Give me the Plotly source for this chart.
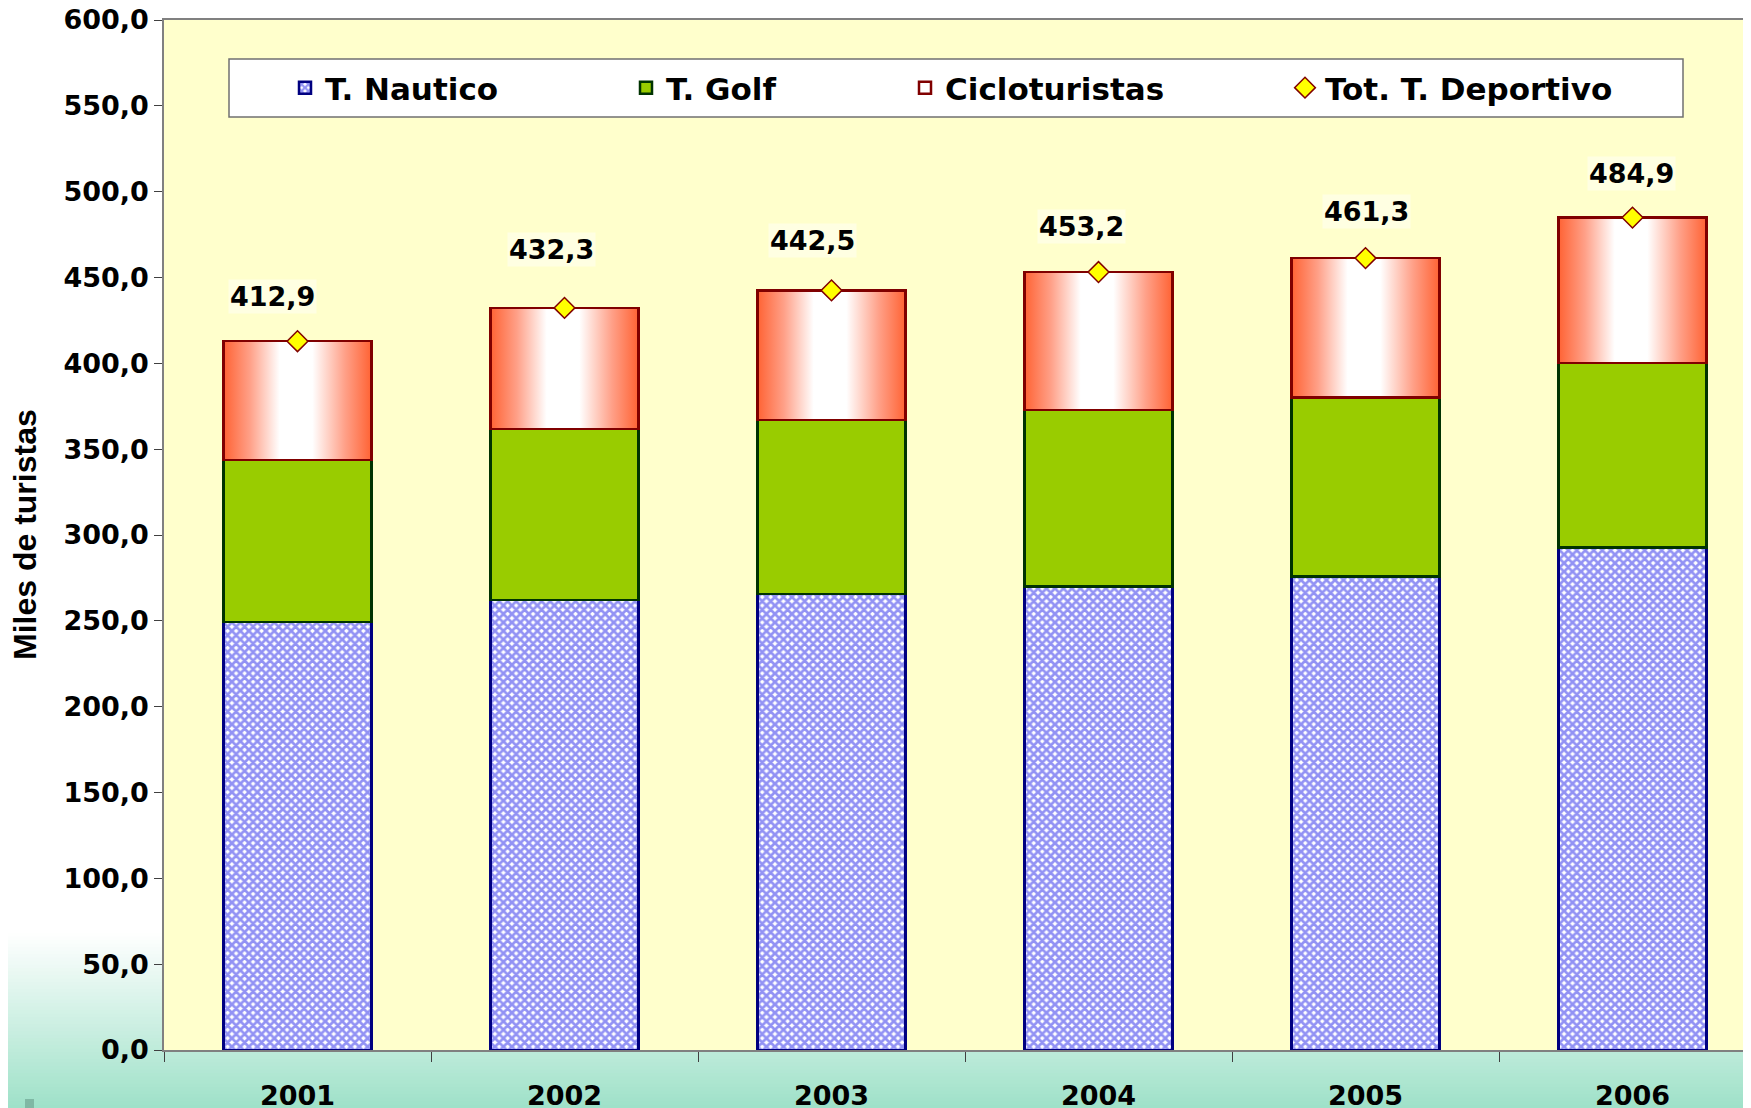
import numpy as np
import plotly.graph_objects as go

# datos (miles de turistas)
years = ["2001", "2002", "2003", "2004", "2005", "2006"]
nautico = [249.2, 262.2, 265.5, 270.0, 275.9, 292.8]
golf = [94.4, 99.6, 101.5, 102.9, 104.1, 107.4]
total = [412.9, 432.3, 442.5, 453.2, 461.3, 484.9]
ciclo = [round(t - n - g, 1) for t, n, g in zip(total, nautico, golf)]

# posicion de las etiquetas (px) respecto al marcador
lbl_dx = [-25, -13, -19, -17, 1, -1]
lbl_dy = [45, 58, 50, 46, 47, 44]
# ancho de cada entrada de la leyenda (px)
leg_w = [296, 234, 335, 290]

# la pagina tiene 8px de margen en el body
W, H = 1743, 1100
ML, MT, MB = 156, 12, 58
PW, PH = W - ML, H - MT - MB
bar_w = 0.556
xr = [-0.5, -0.5 + PW / 267.0]
FONT = "DejaVu Sans"


def px_x(p):
    return (p - ML) / PW


def px_y(p):
    return (H - MB - p) / PH


fig = go.Figure()

# relleno degradado de los cicloturistas (eje numerico de fondo)
ciclo_scale = [[0, "#FF6233"], [0.18, "#FFA088"], [0.38, "#FFFFFF"],
               [0.6, "#FFFFFF"], [0.82, "#FFA088"], [1, "#FF6233"]]
for i in range(len(years)):
    b = nautico[i] + golf[i]
    t = total[i]
    fig.add_trace(go.Scatter(
        x=[i - bar_w / 2, i + bar_w / 2, i + bar_w / 2, i - bar_w / 2, i - bar_w / 2],
        y=[b, b, t, t, b],
        mode="lines", line=dict(width=0), fill="toself",
        fillgradient=dict(type="horizontal", colorscale=ciclo_scale),
        xaxis="x", yaxis="y", showlegend=False, hoverinfo="skip"))

fig.add_trace(go.Bar(
    x=years, y=nautico, name="T. Nautico", width=bar_w, legendwidth=leg_w[0],
    marker=dict(color="white", line=dict(color="#000080", width=2.5),
                pattern=dict(shape="x", fgcolor="#2626EA", bgcolor="white",
                             size=6, solidity=0.7)),
    xaxis="x2", yaxis="y"))
fig.add_trace(go.Bar(
    x=years, y=golf, name="T. Golf", width=bar_w, legendwidth=leg_w[1],
    marker=dict(color="#99CC00", line=dict(color="#003300", width=2.5)),
    xaxis="x2", yaxis="y"))
fig.add_trace(go.Bar(
    x=years, y=ciclo, name="Cicloturistas", width=bar_w, legendwidth=leg_w[2],
    marker=dict(color="rgba(255,255,255,0)", line=dict(color="#800000", width=2.5)),
    xaxis="x2", yaxis="y"))
fig.add_trace(go.Scatter(
    x=years, y=total, name="Tot. T. Deportivo", mode="markers", legendwidth=leg_w[3],
    marker=dict(symbol="diamond", size=16, color="#FFFF00",
                line=dict(color="#800000", width=1.5)),
    xaxis="x2", yaxis="y"))

annots = []
for i, v in enumerate(total):
    annots.append(dict(
        x=i, y=v, xref="x", yref="y",
        text=f"{v:.1f}".replace(".", ","), showarrow=False,
        xshift=lbl_dx[i], yshift=lbl_dy[i],
        font=dict(family=FONT, size=27, color="black", weight="bold"),
        bgcolor="#FFFFE2"))
annots.append(dict(
    x=px_x(17), y=0.5, xref="paper", yref="paper", xanchor="center", yanchor="middle",
    text="Miles de turistas", textangle=-90, showarrow=False,
    font=dict(family="Liberation Sans", size=32, color="black", weight="bold")))

# fondo: degradado blanco -> verde en la parte baja
shapes = []
y_start, y_end = 925, H
steps = 50
for k in range(steps):
    p0 = y_start + (y_end - y_start) * k / steps
    p1 = y_start + (y_end - y_start) * (k + 1) / steps + 1
    t = (k + 0.5) / steps
    c = [int(round(255 + (e - 255) * t)) for e in (158, 225, 200)]
    shapes.append(dict(type="rect", xref="paper", yref="paper",
                       x0=px_x(0), x1=1.0, y0=px_y(p1), y1=px_y(p0),
                       fillcolor=f"rgb({c[0]},{c[1]},{c[2]})", line=dict(width=0),
                       layer="below"))
shapes.append(dict(type="rect", xref="paper", yref="paper", x0=0, x1=1, y0=0, y1=1,
                   fillcolor="#FFFFCC", line=dict(width=0), layer="below"))
# caja de la leyenda
shapes.append(dict(type="rect", xref="paper", yref="paper",
                   x0=px_x(221), x1=px_x(1675), y0=px_y(109), y1=px_y(51),
                   fillcolor="white", line=dict(color="#707070", width=1.5),
                   layer="below"))
# pequeno cuadro decorativo abajo a la izquierda
shapes.append(dict(type="rect", xref="paper", yref="paper",
                   x0=px_x(17), x1=px_x(26), y0=px_y(H + 2), y1=px_y(1091),
                   fillcolor="#7FB8A4", line=dict(width=0), layer="below"))

fig.update_layout(
    width=W, height=H,
    margin=dict(l=ML, r=0, t=MT, b=MB, pad=0, autoexpand=False),
    paper_bgcolor="white", plot_bgcolor="rgba(0,0,0,0)",
    barmode="stack", bargap=0.444,
    separators=",.",
    font=dict(family=FONT, size=26, color="black", weight="bold"),
    shapes=shapes,
    annotations=annots,
    xaxis=dict(type="linear", range=xr, visible=False, fixedrange=True,
               automargin=False),
    xaxis2=dict(type="category", overlaying="x", anchor="y", side="bottom",
                range=xr, tickson="boundaries", ticks="outside", ticklen=10,
                tickcolor="#404040", showline=True, linecolor="#808080",
                linewidth=1.5, mirror=True, showgrid=False, automargin=False,
                ticklabelstandoff=21, ticklabeloverflow="allow",
                tickfont=dict(family=FONT, size=27, color="black", weight="bold")),
    yaxis=dict(range=[0, 600], dtick=50, tickformat=".1f", ticks="outside",
               ticklen=8, tickcolor="#404040", showline=True, linecolor="#808080",
               linewidth=1.5, showgrid=False, zeroline=False, automargin=False,
               ticklabeloverflow="allow",
               tickfont=dict(family=FONT, size=27, color="black", weight="bold")),
    legend=dict(orientation="h", x=px_x(277), xanchor="left", y=px_y(80),
                yanchor="middle", bgcolor="rgba(0,0,0,0)", borderwidth=0,
                font=dict(family=FONT, size=31, color="black", weight="bold"),
                traceorder="normal"),
)

fig.write_html("out.html")
